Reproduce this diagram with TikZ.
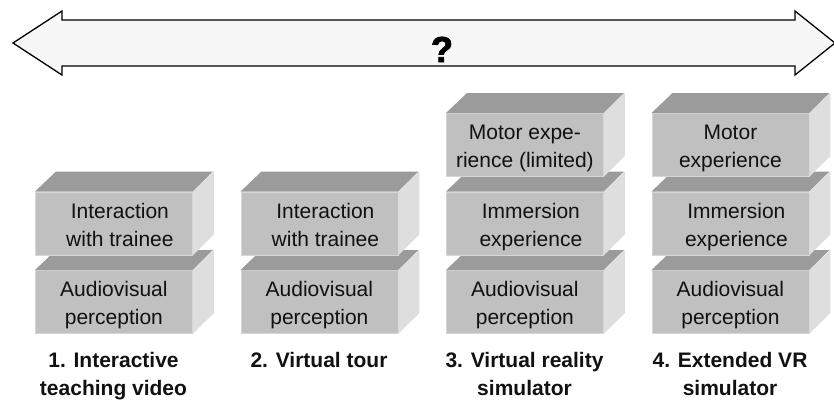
\documentclass[tikz,border=0pt]{standalone}
\usepackage{fontspec}
\setmainfont{Liberation Sans}
\newfontfamily\qfont{Liberation Sans Bold}[FakeBold=2.5]
\definecolor{frontc}{HTML}{C0C0C0}
\definecolor{topc}{HTML}{9B9B9B}
\definecolor{sidec}{HTML}{DEDEDE}
\definecolor{edgec}{HTML}{D6D6D6}
\definecolor{arrowc}{HTML}{F7F7F7}
\definecolor{txtc}{HTML}{111111}
\tikzset{
  front/.style={rectangle, fill=frontc, draw=edgec, line width=0.8pt,
    minimum width=157pt, minimum height=63pt, inner sep=0pt, anchor=north west},
  slabtext/.style={align=center, inner sep=0pt, text=txtc,
    font=\fontsize{21}{28}\selectfont, yshift=-3pt},
  coltitle/.style={align=center, inner sep=0pt, text=txtc,
    font=\fontsize{21}{27.5}\selectfont\bfseries},
  bigarrow/.style={fill=arrowc, draw=black, line width=1.3pt, line join=miter}
}
\newcommand\slab[5]{%
  \node[front] (#1) at (#2,#3) {};
  \fill[topc] (#1.north west) -- ++(21,-20) -- ++(157,0) -- (#1.north east) -- cycle;
  \fill[sidec] (#1.north east) -- ++(21,-20) -- ++(0,63) -- (#1.south east) -- cycle;
  \node[slabtext, xshift=#5] (#1t) at (#1.center) {#4};
}
\begin{document}
\begin{tikzpicture}[x=1pt,y=-1pt]
\useasboundingbox (0,0) rectangle (834,400);
% double arrow
\draw[bigarrow] (13,43) coordinate (ltip) -- (62,11) -- (62,20) -- (795,20) -- (795,11)
  -- (835,43) coordinate (rtip) -- (795,75) -- (795,66) -- (62,66) -- (62,75) -- cycle;
\node[anchor=base, inner sep=0pt, font=\fontsize{36}{40}\qfont] (q) at (442,62) {?};
% column 1
\slab{aA}{35}{270}{\strut Audiovisual\\\strut perception}{0pt}
\slab{aB}{35}{191.5}{\strut Interaction\\\strut with trainee}{6pt}
\node[coltitle] (l1) at (113.5,376) {\strut 1. Interactive\\\strut teaching video};
% column 2
\slab{bA}{240.5}{270}{\strut Audiovisual\\\strut perception}{0pt}
\slab{bB}{240.5}{191.5}{\strut Interaction\\\strut with trainee}{6pt}
\node[coltitle] (l2) at (319,376) {\strut 2. Virtual tour\\\strut\phantom{x}};
% column 3
\slab{cA}{446}{270}{\strut Audiovisual\\\strut perception}{0pt}
\slab{cB}{446}{191.5}{\strut Immersion\\\strut experience}{6pt}
\slab{cC}{446}{113}{\strut Motor expe-\\\strut rience (limited)}{0pt}
\node[coltitle] (l3) at (524.5,376) {\strut 3. Virtual reality\\\strut simulator};
% column 4
\slab{dA}{651.5}{270}{\strut Audiovisual\\\strut perception}{0pt}
\slab{dB}{651.5}{191.5}{\strut Immersion\\\strut experience}{6pt}
\slab{dC}{651.5}{113}{\strut Motor\\\strut experience}{0pt}
\node[coltitle] (l4) at (730,376) {\strut 4. Extended VR\\\strut simulator};
\end{tikzpicture}
\end{document}
